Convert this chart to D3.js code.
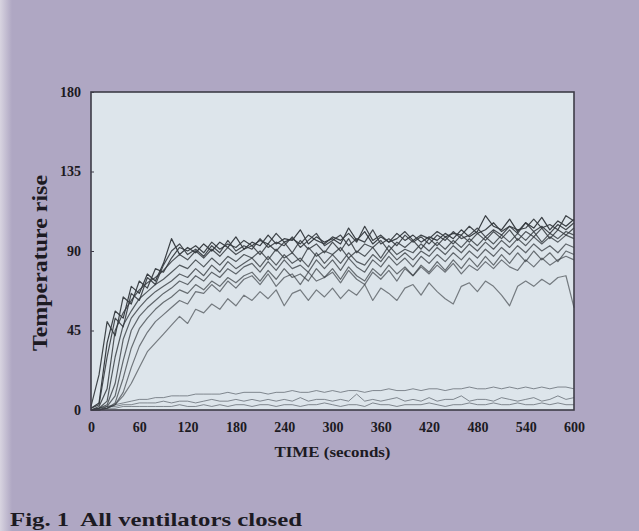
<!DOCTYPE html>
<html lang="en">
<head>
  <meta charset="UTF-8" />
  <title>Fig. 1 All ventilators closed</title>
  <script src="https://d3js.org/d3.v7.min.js"></script>
  <style>
    html, body { margin: 0; padding: 0; background: #afa7c3; }
    svg { display: block; }
    .lbl { font-family: "Liberation Serif", "DejaVu Serif", serif; font-weight: bold; fill: #1c1a22; }
    .curve { fill: none; stroke: #353a3f; stroke-width: 1.2; stroke-linejoin: round; }
    .low { fill: none; stroke: #596068; stroke-width: 0.9; stroke-opacity: 0.8; }
  </style>
</head>
<body>
  <svg width="639" height="531"></svg>

  <script>
    // time axis, every 10 s
    const times = d3.range(0, 601, 10);
    const xTicks = [0, 60, 120, 180, 240, 300, 360, 420, 480, 540, 600];
    const yTicks = [0, 45, 90, 135, 180];

    // temperature rise curves (one per sensor)
    const sA = [1, 4, 38, 56, 52, 70, 66, 77, 73, 83,
      97, 88, 92, 89, 94, 90, 95, 92, 98, 91,
      95, 93, 99, 94, 97, 96, 102, 94, 98, 95,
      97, 94, 103, 96, 101, 94, 98, 95, 100, 96,
      99, 95, 98, 96, 100, 97, 102, 98, 101, 110,
      104, 102, 108, 101, 106, 103, 109, 102, 107, 104,
      108];
    const sB = [1, 3, 30, 52, 47, 66, 62, 75, 71, 82,
      90, 94, 88, 91, 87, 93, 89, 96, 90, 93,
      91, 97, 92, 95, 93, 98, 92, 96, 100, 93,
      96, 99, 93, 97, 95, 102, 94, 97, 93, 99,
      95, 98, 94, 99, 96, 101, 97, 99, 103, 98,
      102, 99, 104, 100, 106, 101, 104, 100, 105, 102,
      106];
    const sJ = [2, 20, 50, 42, 64, 60, 73, 69, 80, 78,
      86, 92, 90, 93, 89, 95, 91, 94, 92, 96,
      93, 96, 94, 100, 95, 97, 94, 99, 96, 94,
      98, 96, 100, 95, 104, 96, 99, 95, 97, 101,
      96, 99, 97, 101, 98, 100, 99, 104, 100, 102,
      106, 101, 104, 102, 103, 108, 103, 105, 102, 110,
      107];
    const sC = [0, 2, 12, 45, 55, 62, 68, 72, 75, 79,
      84, 88, 85, 90, 86, 91, 87, 92, 88, 91,
      93, 88, 94, 90, 95, 89, 96, 91, 94, 89,
      95, 90, 97, 89, 94, 92, 96, 90, 95, 92,
      96, 91, 97, 93, 98, 94, 99, 95, 100, 96,
      101, 97, 102, 96, 101, 98, 103, 97, 102, 99,
      103];
    const sD = [0, 1, 5, 30, 48, 56, 63, 67, 71, 74,
      78, 82, 80, 85, 81, 86, 82, 87, 84, 88,
      86, 90, 85, 91, 86, 89, 84, 92, 87, 90,
      88, 92, 86, 90, 87, 92, 86, 93, 88, 91,
      89, 94, 90, 95, 91, 96, 92, 97, 93, 98,
      94, 99, 95, 100, 96, 101, 95, 100, 97, 101,
      99];
    const sE = [0, 1, 3, 15, 40, 52, 58, 63, 67, 70,
      73, 77, 75, 80, 76, 82, 78, 84, 80, 83,
      86, 81, 87, 82, 88, 83, 86, 81, 89, 83,
      88, 83, 89, 84, 82, 88, 84, 90, 85, 89,
      85, 90, 87, 92, 88, 93, 89, 94, 90, 95,
      91, 96, 92, 97, 93, 98, 94, 98, 95, 99,
      97];
    const sF = [0, 0, 2, 8, 28, 45, 53, 58, 62, 66,
      69, 73, 71, 76, 73, 78, 75, 80, 77, 81,
      83, 78, 84, 79, 85, 80, 82, 78, 85, 80,
      85, 79, 86, 81, 78, 85, 81, 87, 82, 86,
      81, 87, 83, 88, 84, 89, 85, 90, 86, 91,
      87, 92, 88, 93, 89, 94, 90, 93, 89, 94,
      92];
    const sG = [0, 0, 1, 4, 18, 35, 46, 52, 57, 61,
      64, 68, 66, 71, 68, 73, 70, 75, 72, 76,
      78, 73, 79, 74, 80, 75, 77, 73, 80, 75,
      80, 74, 81, 76, 73, 80, 76, 82, 77, 81,
      76, 82, 78, 84, 79, 85, 80, 86, 81, 87,
      82, 88, 83, 89, 84, 90, 85, 89, 84, 90,
      88];
    const sI = [0, 0, 1, 3, 10, 24, 36, 44, 50, 54,
      58, 62, 60, 67, 66, 71, 67, 73, 69, 74,
      76, 71, 77, 70, 75, 77, 71, 78, 73, 75,
      78, 72, 79, 74, 71, 78, 74, 79, 73, 80,
      76, 81, 77, 82, 78, 83, 77, 82, 79, 84,
      80, 85, 81, 79, 85, 81, 86, 82, 85, 87,
      85];
    const sH = [0, 0, 1, 3, 8, 15, 24, 33, 38, 43,
      48, 53, 49, 57, 55, 60, 57, 63, 59, 65,
      62, 67, 63, 68, 59, 66, 68, 62, 68, 64,
      69, 63, 68, 65, 71, 62, 69, 66, 62, 69,
      71, 65, 72, 67, 63, 60, 70, 72, 67, 73,
      70, 65, 59, 70, 73, 70, 74, 71, 75, 76,
      58];
    // sensors near floor level
    const sL1 = [0, 1, 2, 3, 4, 5, 6, 6, 7, 7,
      8, 8, 8, 9, 9, 9, 9, 10, 9, 10,
      10, 10, 9, 10, 10, 11, 10, 10, 11, 10,
      11, 10, 11, 11, 10, 11, 11, 12, 11, 11,
      12, 11, 12, 12, 11, 12, 12, 13, 12, 12,
      13, 12, 13, 12, 13, 12, 13, 12, 13, 13,
      12];
    const sL2 = [0, 1, 2, 2, 3, 3, 4, 4, 4, 5,
      4, 5, 5, 4, 5, 6, 5, 5, 6, 5,
      6, 5, 6, 5, 6, 5, 7, 5, 6, 6,
      5, 6, 5, 9, 5, 6, 5, 6, 7, 5,
      6, 5, 7, 5, 6, 6, 8, 5, 6, 6,
      5, 7, 6, 5, 6, 7, 5, 6, 8, 6,
      7];
    const sL3 = [0, 1, 1, 1, 2, 2, 2, 2, 2, 2,
      2, 3, 2, 2, 3, 2, 3, 2, 3, 3,
      2, 3, 3, 2, 3, 3, 2, 3, 3, 4,
      3, 2, 3, 3, 2, 4, 3, 3, 2, 3,
      3, 3, 4, 3, 2, 3, 3, 4, 3, 3,
      4, 3, 3, 4, 3, 3, 4, 3, 4, 3,
      3];

    const mainSeries = [sH, sI, sG, sF, sE, sD, sC, sB, sJ, sA];
    const lowSeries = [sL1, sL2, sL3];

    const svg = d3.select("svg");
    const margin = { top: 92, right: 65, bottom: 121, left: 91 };
    const width = +svg.attr("width");
    const height = +svg.attr("height");

    // lighter left edge of the photographed page
    const grad = svg.append("defs").append("linearGradient").attr("id", "edge");
    grad.append("stop").attr("offset", "0%").attr("stop-color", "#d8d4e0");
    grad.append("stop").attr("offset", "100%").attr("stop-color", "#afa7c3");
    svg.append("rect").attr("width", width).attr("height", height).attr("fill", "#afa7c3");
    svg.append("rect").attr("width", 12).attr("height", height).attr("fill", "url(#edge)");

    const x = d3.scaleLinear().domain([0, 600]).range([margin.left, width - margin.right]);
    const y = d3.scaleLinear().domain([0, 180]).range([height - margin.bottom, margin.top]);

    svg.append("rect")
      .attr("x", x(0)).attr("y", y(180))
      .attr("width", x(600) - x(0)).attr("height", y(0) - y(180))
      .attr("fill", "#dde5eb");

    const line = d3.line()
      .x((d, i) => x(times[i]))
      .y(d => y(d));

    svg.append("g").selectAll("path")
      .data(lowSeries)
      .join("path")
      .attr("class", "low")
      .attr("d", line);

    svg.append("g").selectAll("path")
      .data(mainSeries)
      .join("path")
      .attr("class", "curve")
      .attr("stroke-opacity", (d, i) => 0.62 + i * 0.04)
      .attr("stroke-width", (d, i) => i >= 7 ? 1.7 : 1.2)
      .attr("d", line);

    // frame
    svg.append("rect")
      .attr("x", x(0)).attr("y", y(180))
      .attr("width", x(600) - x(0)).attr("height", y(0) - y(180))
      .attr("fill", "none").attr("stroke", "#3e3c48").attr("stroke-width", 1.6);

    // axes
    const yAxis = svg.append("g")
      .attr("transform", `translate(${x(0)},0)`)
      .call(d3.axisLeft(y).tickValues(yTicks).tickSize(-3).tickPadding(10));
    yAxis.select(".domain").remove();
    yAxis.selectAll("line").attr("stroke", "#3e3c48");
    yAxis.selectAll("text").attr("class", "lbl").attr("font-size", 14).style("font-family", null);

    const xAxis = svg.append("g")
      .attr("transform", `translate(0,${y(0)})`)
      .call(d3.axisBottom(x).tickValues(xTicks).tickSize(0).tickPadding(12));
    xAxis.select(".domain").remove();
    xAxis.selectAll("text").attr("class", "lbl").attr("font-size", 14).style("font-family", null);

    svg.append("text")
      .attr("class", "lbl")
      .attr("transform", `translate(47,${(y(0) + y(180)) / 2 + 12}) rotate(-90)`)
      .attr("text-anchor", "middle")
      .attr("font-size", 21)
      .attr("textLength", 176)
      .attr("lengthAdjust", "spacingAndGlyphs")
      .text("Temperature rise");

    svg.append("text")
      .attr("class", "lbl")
      .attr("x", (x(0) + x(600)) / 2)
      .attr("y", 457)
      .attr("text-anchor", "middle")
      .attr("font-size", 14)
      .attr("textLength", 116)
      .attr("lengthAdjust", "spacingAndGlyphs")
      .text("TIME (seconds)");

    svg.append("text")
      .attr("class", "lbl")
      .attr("x", 10)
      .attr("y", 526)
      .attr("font-size", 19)
      .attr("textLength", 292)
      .attr("lengthAdjust", "spacingAndGlyphs")
      .style("white-space", "pre")
      .text("Fig. 1  All ventilators closed");
  </script>
</body>
</html>
